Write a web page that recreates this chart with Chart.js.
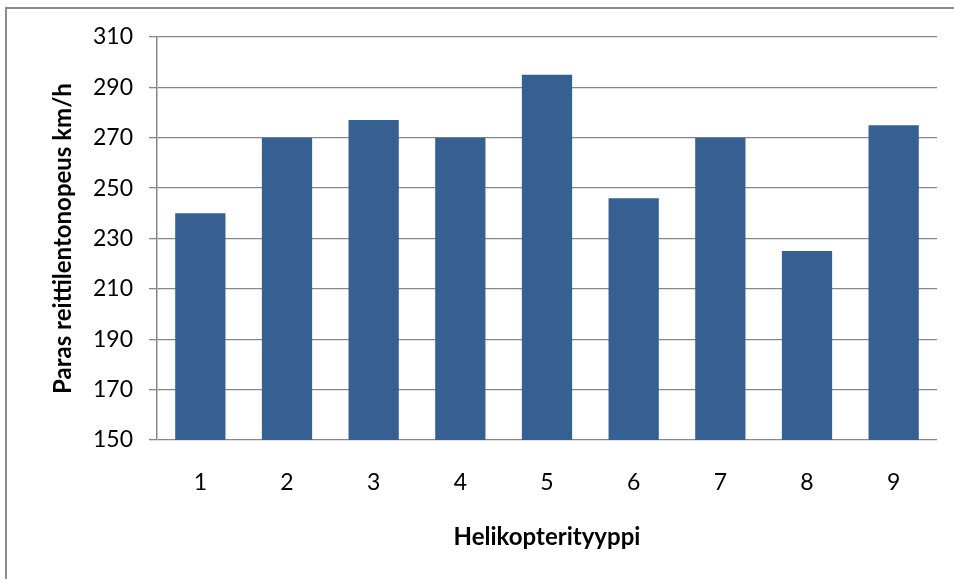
<!DOCTYPE html>
<html>
<head>
<meta charset="utf-8">
<script src="https://cdn.jsdelivr.net/npm/chart.js@4.4.1/dist/chart.umd.min.js"></script>
<style>
  html, body { margin: 0; padding: 0; background: #ffffff; }
  #wrap { width: 954px; height: 579px; position: relative; }
</style>
</head>
<body>
<div id="wrap"><canvas id="chart"></canvas></div>
<script>
// Helicopter types and their best cruise speed (km/h)
const categories = ['1', '2', '3', '4', '5', '6', '7', '8', '9'];
const cruiseSpeeds = [240, 270, 277, 270, 295, 246, 270, 225, 275];
const yTicks = [150, 170, 190, 210, 230, 250, 270, 290, 310];
const xTitle = 'Helikopterityyppi';
const yTitle = 'Paras reittilentonopeus km/h';

const FONT = 'Lato, "Open Sans", "Liberation Sans", sans-serif';
const GRID = '#878787';

// Frame around the chart area (top and left edges visible)
const framePlugin = {
  id: 'frame',
  beforeDraw(chart) {
    const ctx = chart.ctx;
    ctx.save();
    ctx.strokeStyle = '#8c8c8c';
    ctx.lineWidth = 2;
    ctx.strokeRect(6, 8, chart.width + 20, chart.height + 20);
    ctx.restore();
  }
};

new Chart(document.getElementById('chart'), {
  type: 'bar',
  data: {
    labels: categories,
    datasets: [{
      data: cruiseSpeeds,
      backgroundColor: '#366092',
      borderWidth: 0,
      categoryPercentage: 1.0,
      barPercentage: 0.58
    }]
  },
  options: {
    responsive: true,
    maintainAspectRatio: false,
    animation: false,
    events: [],
    layout: { padding: { left: 38, right: 17, top: 37, bottom: 0 } },
    plugins: {
      legend: { display: false },
      tooltip: { enabled: false }
    },
    scales: {
      x: {
        grid: { display: false, drawTicks: false },
        border: { display: false },
        ticks: {
          color: '#000000',
          padding: 29,
          font: { family: FONT, size: 23 }
        },
        title: {
          display: true,
          text: xTitle,
          color: '#000000',
          font: { family: FONT, size: 24, weight: 'bold' },
          padding: { top: 0, bottom: 27 }
        },
        afterFit(scale) { scale.height = 139; }
      },
      y: {
        min: 150,
        max: 310,
        afterBuildTicks(scale) {
          scale.ticks = yTicks.map(v => ({ value: v }));
        },
        grid: {
          color: GRID,
          lineWidth: 1.3,
          drawTicks: true,
          tickLength: 8,
          tickColor: GRID
        },
        border: { display: true, color: GRID, width: 1.5 },
        ticks: {
          color: '#000000',
          padding: 16,
          font: { family: FONT, size: 23 }
        },
        title: {
          display: true,
          text: yTitle,
          color: '#000000',
          font: { family: FONT, size: 24, weight: 'bold' },
          padding: { top: 11, bottom: 0 }
        },
        afterFit(scale) { scale.width = 157 - 38; }
      }
    }
  },
  plugins: [framePlugin]
});
</script>
</body>
</html>
